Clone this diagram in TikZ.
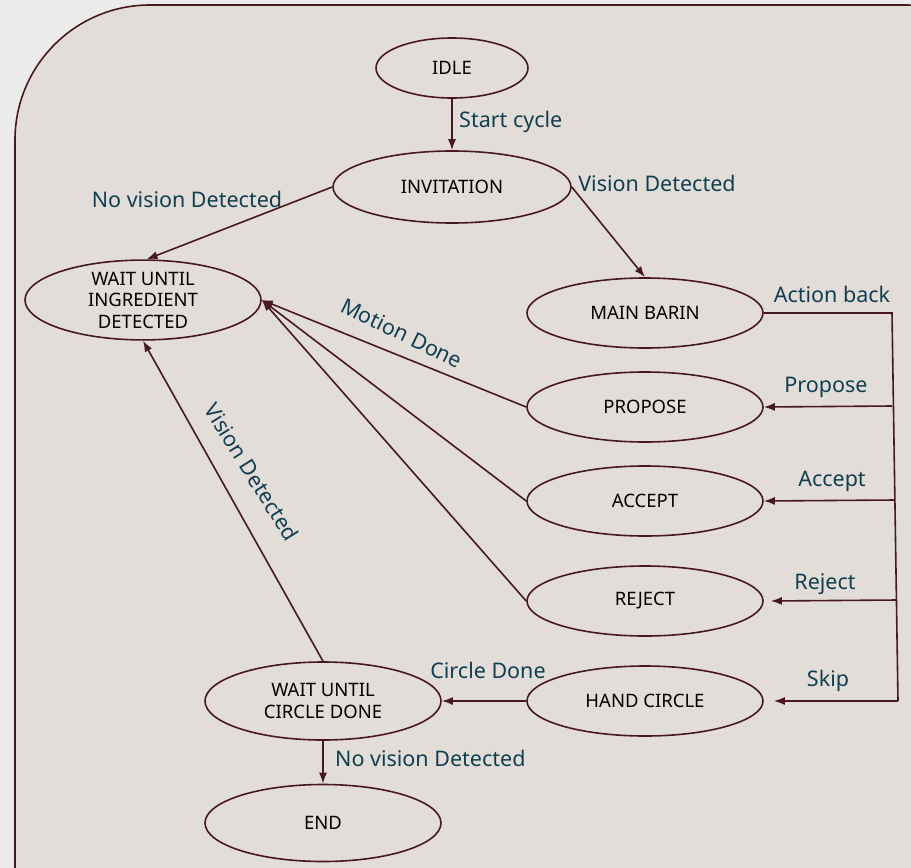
\documentclass[tikz,border=0pt]{standalone}
\usepackage{fontspec}
\setmainfont{Noto Sans}
\usetikzlibrary{shapes.geometric,arrows.meta}
\definecolor{pagebg}{HTML}{EBEBEB}
\definecolor{panelbg}{HTML}{E2DDD9}
\definecolor{edgecol}{HTML}{47191F}
\definecolor{labelcol}{HTML}{113F50}
\tikzset{
  state/.style={ellipse, draw=edgecol, line width=1.6pt, inner sep=0pt,
    minimum width=236pt, minimum height=70pt, align=center,
    font=\fontsize{18.5}{21.5}\selectfont, text=black},
  flow/.style={draw=edgecol, line width=1.6pt, -{Latex[length=11pt,width=8pt]}},
  wire/.style={draw=edgecol, line width=1.6pt},
  lbl/.style={text=labelcol, font=\fontsize{21.5}{25}\selectfont, inner sep=0pt}
}
\begin{document}
\begin{tikzpicture}[x=1pt,y=-1pt]
  \useasboundingbox (0,0) rectangle (911,868);
  \fill[pagebg] (0,0) rectangle (911,868);
  \begin{scope}
    \clip (0,0) rectangle (911,868);
    \draw[edgecol, fill=panelbg, line width=1.6pt, rounded corners=135pt]
      (15,5) rectangle (1040,1010);
  \end{scope}

  % states
  \node[state, minimum width=152pt, minimum height=60pt] (idle) at (452,68) {IDLE};
  \node[state, minimum width=238pt, minimum height=72pt] (inv) at (452,187) {INVITATION};
  \node[state] (wi) at (143,300) {WAIT UNTIL\\INGREDIENT\\DETECTED};
  \node[state] (mb) at (645,313) {MAIN BARIN};
  \node[state] (prop) at (645,407) {PROPOSE};
  \node[state] (acc) at (645,501) {ACCEPT};
  \node[state] (rej) at (645,601) {REJECT};
  \node[state] (hc) at (645,701) {HAND CIRCLE};
  \node[state, minimum height=78pt] (wc) at (323,701) {WAIT UNTIL\\CIRCLE DONE};
  \node[state, minimum height=77pt] (end) at (323,823) {END};

  % right-hand bus from MAIN BARIN
  \coordinate (bt) at (892,313);
  \coordinate (bp) at (892,406);
  \coordinate (ba) at (895,500);
  \coordinate (br) at (897,600);
  \coordinate (bb) at (898,701);
  \draw[wire] (mb.east) -- (bt) -- (bb);

  % transitions
  \draw[flow] (idle) -- (inv);
  \draw[flow] (inv.west) -- (wi.85);
  \draw[flow] (inv.east) -- (mb.north);
  \draw[flow] (bp) -- (prop.east);
  \draw[flow] (ba) -- (acc.east);
  \draw[flow] (br) -- ([xshift=7pt]rej.east);
  \draw[flow] (bb) -- ([xshift=10pt]hc.east);
  \draw[flow] (prop.west) -- (wi.east);
  \draw[flow] (acc.west) -- (wi.east);
  \draw[flow] (rej.west) -- (wi.east);
  \draw[flow] (wc.north) -- (wi.south);
  \draw[flow] (hc.west) -- (wc.east);
  \draw[flow] (wc.south) -- (end.north);

  % labels
  \node[lbl, anchor=west] (l1) at (459,122) {Start cycle};
  \node[lbl] (l2) at (187,199) {No vision Detected};
  \node[lbl] (l3) at (657,183) {Vision Detected};
  \node[lbl] (l4) at (832,294) {Action back};
  \node[lbl] (l5) at (826,387) {Propose};
  \node[lbl] (l6) at (832,481) {Accept};
  \node[lbl] (l7) at (825,584) {Reject};
  \node[lbl] (l8) at (828,681) {Skip};
  \node[lbl, rotate=-26] (l9) at (402,333) {Motion Done};
  \node[lbl, rotate=-58] (l10) at (252,472) {Vision Detected};
  \node[lbl] (l11) at (488,670) {Circle Done};
  \node[lbl, anchor=west] (l12) at (335,758) {No vision Detected};
\end{tikzpicture}
\end{document}
